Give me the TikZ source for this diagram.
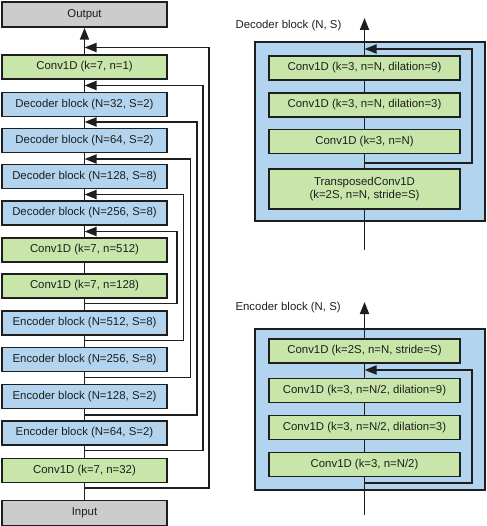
\documentclass[tikz,border=0pt]{standalone}
\usepackage{fontspec}
\setmainfont{Liberation Sans}
\usetikzlibrary{arrows.meta}
\definecolor{gfill}{RGB}{200,230,170}
\definecolor{bfill}{RGB}{178,212,238}
\definecolor{grfill}{RGB}{204,204,204}
\definecolor{ink}{RGB}{30,30,30}
\begin{document}
\begin{tikzpicture}[x=1pt,y=-1pt,
  every node/.style={font=\fontsize{11.4pt}{13.5pt}\selectfont, text=ink},
  box/.style={draw=ink, line width=1.5pt, minimum width=165pt, minimum height=24pt, inner sep=0pt, align=center},
  gbox/.style={box, fill=gfill},
  bbox/.style={box, fill=bfill},
  grbox/.style={box, fill=grfill},
  rgbox/.style={gbox, minimum width=191pt},
  panel/.style={draw=ink, line width=1.5pt, fill=bfill},
  wire/.style={draw=ink, line width=1.8pt},
  arr/.style={wire, -{Triangle[length=12pt,width=9pt]}},
]
\useasboundingbox (0,0) rectangle (486,526);

% left column
\node[grbox, minimum height=25pt] (out) at (84.5,14.5) {Output};
\node[gbox] (c1) at (84.5,67) {Conv1D (k=7, n=1)};
\node[bbox] (d32) at (84.5,104.5) {Decoder block (N=32, S=2)};
\node[bbox] (d64) at (84.5,140.5) {Decoder block (N=64, S=2)};
\node[bbox] (d128) at (84.5,176.5) {Decoder block (N=128, S=8)};
\node[bbox] (d256) at (84.5,213) {Decoder block (N=256, S=8)};
\node[gbox] (c512) at (84.5,250) {Conv1D (k=7, n=512)};
\node[gbox] (c128) at (84.5,286) {Conv1D (k=7, n=128)};
\node[bbox] (e512) at (84.5,323) {Encoder block (N=512, S=8)};
\node[bbox] (e256) at (84.5,359.5) {Encoder block (N=256, S=8)};
\node[bbox] (e128) at (84.5,396.5) {Encoder block (N=128, S=2)};
\node[bbox] (e64) at (84.5,433) {Encoder block (N=64, S=2)};
\node[gbox] (c32) at (84.5,470.5) {Conv1D (k=7, n=32)};
\node[grbox, minimum height=25pt] (in) at (84.5,513) {Input};

\draw[wire] (in) -- (c32);
\draw[wire] (c32) -- (e64);
\draw[wire] (e64) -- (e128);
\draw[wire] (e128) -- (e256);
\draw[wire] (e256) -- (e512);
\draw[wire] (e512) -- (c128);
\draw[wire] (c128) -- (c512);
\draw[wire] (c512) -- (d256);
\draw[wire] (d256) -- (d128);
\draw[wire] (d128) -- (d64);
\draw[wire] (d64) -- (d32);
\draw[wire] (d32) -- (c1);
\draw[arr] (c1) -- (out);

% skip connections
\coordinate (s1) at (84.5,488);   \coordinate (t1) at (84.5,47.5);
\coordinate (s2) at (84.5,450.5); \coordinate (t2) at (84.5,85.5);
\coordinate (s3) at (84.5,415);   \coordinate (t3) at (84.5,122);
\coordinate (s4) at (84.5,377.5); \coordinate (t4) at (84.5,159);
\coordinate (s5) at (84.5,340.5); \coordinate (t5) at (84.5,194.5);
\coordinate (s6) at (84.5,303.5); \coordinate (t6) at (84.5,231.5);
\draw[arr] (s1) -| (209,47.5) -- (t1);
\draw[arr] (s2) -| (203,85.5) -- (t2);
\draw[arr] (s3) -| (197,122) -- (t3);
\draw[arr] (s4) -| (190.5,159) -- (t4);
\draw[arr] (s5) -| (183.5,194.5) -- (t5);
\draw[arr] (s6) -| (177,231.5) -- (t6);

% decoder block detail
\node[anchor=west] (dlab) at (232,26) {Decoder block (N, S)};
\path[panel] (255,42) rectangle (485,221);
\node[rgbox] (dd9) at (364.5,68) {Conv1D (k=3, n=N, dilation=9)};
\node[rgbox] (dd3) at (364.5,105) {Conv1D (k=3, n=N, dilation=3)};
\node[rgbox] (dk3) at (364.5,141.5) {Conv1D (k=3, n=N)};
\node[rgbox, minimum height=40pt, align=center] (dtr) at (364.5,189) {TransposedConv1D\\(k=2S, n=N, stride=S)};
\coordinate (dbot) at (364.5,250);
\coordinate (dtop) at (364.5,18);
\draw[wire] (dbot) -- (dtr);
\draw[wire] (dtr) -- (dk3);
\draw[wire] (dk3) -- (dd3);
\draw[wire] (dd3) -- (dd9);
\draw[arr] (dd9) -- (dtop);
\coordinate (ds) at (364.5,163);
\coordinate (dt) at (364.5,49);
\draw[arr] (ds) -| (472,49) -- (dt);

% encoder block detail
\node[anchor=west] (elab) at (232,308) {Encoder block (N, S)};
\path[panel] (255,329) rectangle (485,490);
\node[rgbox] (es) at (364.5,351) {Conv1D (k=2S, n=N, stride=S)};
\node[rgbox] (e9) at (364.5,390.5) {Conv1D (k=3, n=N/2, dilation=9)};
\node[rgbox] (e3) at (364.5,427.5) {Conv1D (k=3, n=N/2, dilation=3)};
\node[rgbox] (ek) at (364.5,464.5) {Conv1D (k=3, n=N/2)};
\coordinate (ebot) at (364.5,515);
\coordinate (etop) at (364.5,302);
\draw[wire] (ebot) -- (ek);
\draw[wire] (ek) -- (e3);
\draw[wire] (e3) -- (e9);
\draw[wire] (e9) -- (es);
\draw[arr] (es) -- (etop);
\coordinate (es1) at (364.5,483);
\coordinate (et1) at (364.5,370);
\draw[arr] (es1) -| (472,370) -- (et1);
\end{tikzpicture}
\end{document}
